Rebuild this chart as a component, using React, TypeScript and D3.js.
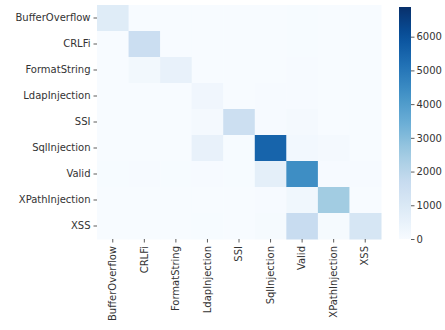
import React, { useEffect, useRef } from "react";
import * as d3 from "d3";

// Confusion matrix: rows = true label, cols = predicted label
const labels = [
  "BufferOverflow",
  "CRLFi",
  "FormatString",
  "LdapInjection",
  "SSI",
  "SqlInjection",
  "Valid",
  "XPathInjection",
  "XSS",
];

const rowBufferOverflow = [820, 10, 5, 5, 0, 10, 20, 0, 5];
const rowCRLFi = [10, 1550, 10, 0, 0, 5, 20, 0, 0];
const rowFormatString = [10, 180, 520, 10, 0, 10, 40, 0, 5];
const rowLdapInjection = [5, 5, 5, 250, 10, 30, 40, 5, 5];
const rowSSI = [5, 10, 5, 90, 1500, 30, 110, 10, 5];
const rowSqlInjection = [10, 10, 5, 520, 20, 5500, 160, 110, 10];
const rowValid = [20, 30, 20, 30, 20, 650, 4400, 40, 30];
const rowXPathInjection = [5, 5, 5, 10, 5, 40, 230, 2500, 10];
const rowXSS = [10, 10, 10, 20, 10, 60, 1650, 80, 1150];

const matrix = [
  rowBufferOverflow,
  rowCRLFi,
  rowFormatString,
  rowLdapInjection,
  rowSSI,
  rowSqlInjection,
  rowValid,
  rowXPathInjection,
  rowXSS,
];

const colorMax = 6880;
const colorTicks = [0, 1000, 2000, 3000, 4000, 5000, 6000];

const App: React.FC = () => {
  const ref = useRef<SVGSVGElement | null>(null);

  useEffect(() => {
    const svg = d3.select(ref.current);
    svg.selectAll("*").remove();

    const left = 97, top = 5, right = 381, bottom = 239;
    const font = "DejaVu Sans, sans-serif";
    const textColor = "#333";

    const x = d3.scaleBand().domain(labels).range([left, right]);
    const y = d3.scaleBand().domain(labels).range([top, bottom]);

    const blues = d3.schemeBlues[9];
    const color = d3
      .scaleLinear<string>()
      .domain(blues.map((_, i) => (i / 8) * colorMax))
      .range(blues)
      .clamp(true);

    const cells = matrix.flatMap((row, i) =>
      row.map((v, j) => ({ r: labels[i], c: labels[j], v }))
    );

    svg
      .append("g")
      .selectAll("rect")
      .data(cells)
      .enter()
      .append("rect")
      .attr("x", (d) => x(d.c)!)
      .attr("y", (d) => y(d.r)!)
      .attr("width", x.bandwidth() + 0.5)
      .attr("height", y.bandwidth() + 0.5)
      .attr("fill", (d) => color(d.v));

    // y axis
    const ya = svg
      .append("g")
      .attr("transform", `translate(${left},0)`)
      .call(d3.axisLeft(y).tickSize(3.5).tickPadding(3));
    ya.select(".domain").remove();
    ya.selectAll("line").attr("stroke", textColor).attr("stroke-width", 0.8);
    ya.selectAll("text")
      .attr("font-family", font)
      .attr("font-size", 10)
      .attr("fill", textColor);

    // x axis
    const xa = svg
      .append("g")
      .attr("transform", `translate(0,${bottom})`)
      .call(d3.axisBottom(x).tickSize(3.5).tickPadding(3));
    xa.select(".domain").remove();
    xa.selectAll("line").attr("stroke", textColor).attr("stroke-width", 0.8);
    xa.selectAll("text")
      .attr("font-family", font)
      .attr("font-size", 10)
      .attr("fill", textColor)
      .attr("transform", "rotate(-90)")
      .attr("text-anchor", "end")
      .attr("x", -7)
      .attr("y", 0)
      .attr("dy", "0.32em");

    // colorbar
    const cbLeft = 399, cbWidth = 12, cbTop = 7, cbBottom = 239;
    const cy = d3.scaleLinear().domain([0, colorMax]).range([cbBottom, cbTop]);
    const grad = svg
      .append("defs")
      .append("linearGradient")
      .attr("id", "cbgrad")
      .attr("x1", 0)
      .attr("y1", 1)
      .attr("x2", 0)
      .attr("y2", 0);
    d3.range(0, 1.0001, 0.05).forEach((t) => {
      grad
        .append("stop")
        .attr("offset", t)
        .attr("stop-color", color(t * colorMax));
    });
    svg
      .append("rect")
      .attr("x", cbLeft)
      .attr("y", cbTop)
      .attr("width", cbWidth)
      .attr("height", cbBottom - cbTop)
      .attr("fill", "url(#cbgrad)");

    const ca = svg
      .append("g")
      .attr("transform", `translate(${cbLeft + cbWidth},0)`)
      .call(
        d3
          .axisRight(cy)
          .tickValues(colorTicks)
          .tickSize(3.5)
          .tickPadding(2)
          .tickFormat(d3.format("d"))
      );
    ca.select(".domain").remove();
    ca.selectAll("line").attr("stroke", textColor).attr("stroke-width", 0.8);
    ca.selectAll("text")
      .attr("font-family", font)
      .attr("font-size", 10)
      .attr("fill", textColor);
  }, []);

  return (
    <svg
      ref={ref}
      width={445}
      height={330}
      style={{ position: "absolute", left: 0, top: 0, background: "#fff" }}
    />
  );
};

export default App;
